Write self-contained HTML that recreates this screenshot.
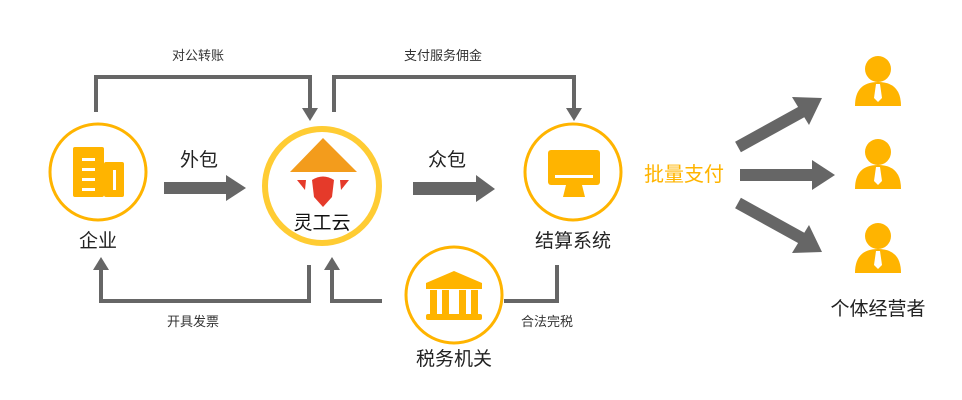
<!DOCTYPE html>
<html><head><meta charset="utf-8"><style>
html,body{margin:0;padding:0;background:#fff;}
svg{display:block;}
text{font-family:"Liberation Sans","Noto Sans CJK SC",sans-serif;}
</style></head><body>
<svg width="962" height="400" viewBox="0 0 962 400" xmlns="http://www.w3.org/2000/svg">
<g fill="none" stroke="#666" stroke-width="4">
<path d="M96,112 V77 H310 V110"/>
<path d="M334,112 V77 H574 V110"/>
<path d="M309,265 V301 H101 V266"/>
<path d="M382,301 H332 V266"/>
<path d="M504,301 H557 V265"/>
</g>
<g fill="#666">
<path d="M302,108 L318,108 L310,121 z"/>
<path d="M566,108 L582,108 L574,121 z"/>
<path d="M93,270 L109,270 L101,257 z"/>
<path d="M324,270 L340,270 L332,257 z"/>
</g>
<g font-size="13" fill="#333" text-anchor="middle">
<text x="198" y="60">对公转账</text>
<text x="443" y="60">支付服务佣金</text>
<text x="193" y="326">开具发票</text>
<text x="547" y="326">合法完税</text>
</g>
<g fill="#666">
<path d="M164,182 H226 V175 L246,188 L226,201 V194 H164 z"/>
<path d="M413,182 H476 V175 L495,189 L476,202 V195 H413 z"/>
<path d="M740,169 H812 V160 L835,175 L812,190 V181 H740 z"/>
</g>
<g stroke="#666" stroke-width="12" fill="none">
<line x1="738" y1="147" x2="805" y2="110"/>
<line x1="738" y1="203" x2="805" y2="240"/>
</g>
<g fill="#666">
<path d="M792,97 L822,98 L809,125 z"/>
<path d="M792,253 L822,252 L809,225 z"/>
</g>
<g font-size="19" fill="#222" text-anchor="middle">
<text x="199" y="166">外包</text>
<text x="447" y="166">众包</text>
</g>
<circle cx="98" cy="172" r="48" fill="#fff" stroke="#FFB400" stroke-width="3"/>
<rect x="73" y="147" width="31" height="50" rx="2" fill="#FFB400"/>
<rect x="104" y="162" width="20" height="35" rx="2" fill="#FFB400"/>
<g fill="#fff"><rect x="82" y="158" width="13" height="3"/><rect x="82" y="168" width="13" height="3"/><rect x="82" y="178" width="13" height="3"/><rect x="82" y="188" width="13" height="3"/><rect x="113" y="170" width="3" height="20"/></g>
<text x="98" y="247" font-size="19" fill="#222" text-anchor="middle">企业</text>
<circle cx="322" cy="186" r="57" fill="#fff" stroke="#FFCC33" stroke-width="6"/>
<path d="M323,138 L357,172 H290 z" fill="#F39C1C"/>
<path d="M312,180 Q323,173 334,180 L332,197 L323,207 L314,197 z" fill="#E53A2A"/>
<path d="M297,180 L306,180 L305,190 z" fill="#E53A2A"/>
<path d="M349,180 L340,180 L341,190 z" fill="#E53A2A"/>
<text x="322" y="229" font-size="19" fill="#111" text-anchor="middle">灵工云</text>
<circle cx="573" cy="172" r="48" fill="#fff" stroke="#FFB400" stroke-width="3"/>
<rect x="548" y="150" width="52" height="35" rx="3" fill="#FFB400"/>
<rect x="555" y="175" width="38" height="3" fill="#fff"/>
<path d="M566,185 H582 L585,197 H563 z" fill="#FFB400"/>
<text x="573" y="247" font-size="19" fill="#222" text-anchor="middle">结算系统</text>
<circle cx="454" cy="295" r="48" fill="#fff" stroke="#FFB400" stroke-width="3"/>
<path d="M454,271 L482,283 V289 H426 V283 z" fill="#FFB400"/>
<g fill="#FFB400"><rect x="430" y="290" width="7" height="24"/><rect x="442" y="290" width="7" height="24"/><rect x="459" y="290" width="7" height="24"/><rect x="471" y="290" width="7" height="24"/><rect x="426" y="314" width="56" height="6" rx="2"/></g>
<text x="454" y="365" font-size="19" fill="#222" text-anchor="middle">税务机关</text>
<text x="684" y="181" font-size="20" fill="#FFB400" text-anchor="middle">批量支付</text>
<g id="p">
<circle cx="878" cy="69" r="13" fill="#FFB400"/>
<path d="M855,106 Q855,82 878,82 Q901,82 901,106 z" fill="#FFB400"/>
<path d="M876,84 H880 L882,98 L878,102 L874,98 z" fill="#fff"/>
</g>
<use href="#p" y="83"/>
<use href="#p" y="167"/>
<text x="878" y="315" font-size="19" fill="#222" text-anchor="middle">个体经营者</text>
</svg>
</body></html>
